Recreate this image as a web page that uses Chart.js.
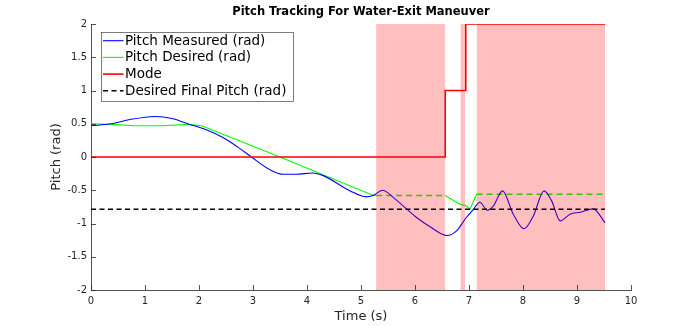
<!DOCTYPE html>
<html>
<head>
<meta charset="utf-8">
<script src="https://cdn.jsdelivr.net/npm/chart.js@4.4.1/dist/chart.umd.min.js"></script>
<style>
html,body{margin:0;padding:0;background:#fff;}
#wrap{width:698px;height:326px;}
</style>
</head>
<body>
<div id="wrap"><canvas id="c" width="698" height="326"></canvas></div>
<script>
// ---- data ----
const chartTitle = "Pitch Tracking For Water-Exit Maneuver";
const xTitle = "Time (s)";
const yTitle = "Pitch (rad)";

const measuredTime  = [0, 0.38, 0.7, 1.19, 1.5, 1.83, 2.1, 2.45, 2.7, 2.97, 3.31, 3.56, 3.8, 4.1, 4.3, 4.8, 5.1, 5.22, 5.4, 5.6, 6.03, 6.28, 6.59, 6.77, 6.95, 7.08, 7.2, 7.34, 7.45, 7.62, 7.82, 8.02, 8.19, 8.39, 8.53, 8.69, 8.87, 9.06, 9.3, 9.52];
const measuredPitch = [0.47, 0.50, 0.56, 0.61, 0.58, 0.49, 0.42, 0.29, 0.16, 0.0, -0.19, -0.26, -0.26, -0.24, -0.28, -0.51, -0.60, -0.58, -0.50, -0.61, -0.91, -1.05, -1.18, -1.11, -0.91, -0.79, -0.68, -0.80, -0.74, -0.51, -0.86, -1.08, -0.89, -0.51, -0.66, -0.96, -0.86, -0.83, -0.78, -0.99];

const desiredTime  = [0, 0.4, 0.8, 1.3, 1.8, 2.05, 3.5, 5.23, 5.28, 6.56, 6.83, 6.93, 7.02, 7.14, 9.52];
const desiredPitch = [0.50, 0.49, 0.47, 0.47, 0.49, 0.47, 0.0, -0.58, -0.58, -0.58, -0.71, -0.73, -0.78, -0.56, -0.56];

const modeTime  = [0, 6.56, 6.56, 6.94, 6.94, 9.52];
const modeValue = [0, 0, 1, 1, 2, 2];

const finalTime  = [0, 9.52];
const finalPitch = [-0.785, -0.785];

// shaded phases [start, end]
const phaseStart = [5.28, 6.84, 7.14];
const phaseEnd   = [6.56, 6.93, 9.52];

const xTicks = [0,1,2,3,4,5,6,7,8,9,10];
const yTicks = [-2,-1.5,-1,-0.5,0,0.5,1,1.5,2];

// ---- build ----
const zip = (xs, ys) => xs.map((x, i) => ({x, y: ys[i]}));
const dashedRanges = [[5.27, 6.57], [7.13, 9.6]];
const inDashed = ctx => dashedRanges.some(r => ctx.p0.parsed.x >= r[0] && ctx.p1.parsed.x <= r[1]);

const datasets = [
  {label: "Pitch Measured (rad)", data: zip(measuredTime, measuredPitch), borderColor: "#0000ff", borderWidth: 1.1,
   pointRadius: 0, cubicInterpolationMode: "monotone", order: 3},
  {label: "Pitch Desired (rad)", data: zip(desiredTime, desiredPitch), borderColor: "#00ff00", borderWidth: 1.1,
   pointRadius: 0, tension: 0, order: 3,
   segment: {borderDash: ctx => inDashed(ctx) ? [6, 4] : undefined, borderWidth: ctx => inDashed(ctx) ? 1.6 : undefined}},
  {label: "Mode", data: zip(modeTime, modeValue), borderColor: "#ff0000", borderWidth: 1.6, pointRadius: 0, order: 0},
  {label: "Desired Final Pitch (rad)", data: zip(finalTime, finalPitch), borderColor: "#000000", borderWidth: 1.5,
   borderDash: [5, 3.5], pointRadius: 0, order: 1}
];
phaseStart.forEach((s, i) => {
  datasets.push({label: "_phase" + i, data: [{x: s, y: 2}, {x: phaseEnd[i], y: 2}], borderWidth: 0,
    borderColor: "rgba(0,0,0,0)", backgroundColor: "rgba(255,0,0,0.25)", fill: {value: -2}, pointRadius: 0, order: 2});
});

const AX = "#262626";
const FONT = "'DejaVu Sans', sans-serif";

const decor = {
  id: "decor",
  afterDraw(chart) {
    const {ctx, chartArea: ca, scales: {x, y}} = chart;
    ctx.save();
    // inner ticks
    ctx.strokeStyle = AX; ctx.lineWidth = 0.8;
    ctx.beginPath();
    xTicks.forEach(v => { const px = Math.round(x.getPixelForValue(v)) + 0.5; ctx.moveTo(px, ca.bottom); ctx.lineTo(px, ca.bottom - 5); });
    yTicks.forEach(v => { const py = Math.round(y.getPixelForValue(v)) + 0.5; ctx.moveTo(ca.left, py); ctx.lineTo(ca.left + 5, py); });
    ctx.stroke();
    // title
    ctx.fillStyle = "#000";
    ctx.font = "bold 11.5px " + FONT;
    ctx.textAlign = "center"; ctx.textBaseline = "middle";
    ctx.fillText(chartTitle, (ca.left + ca.right) / 2, 12);
    // legend
    const items = chart.data.datasets.filter(d => !d.label.startsWith("_"));
    const bx = 101, by = 32, bw = 192, bh = 69, rowH = 16.7, y0 = 40.7;
    ctx.fillStyle = "#fff";
    ctx.fillRect(bx, by, bw, bh);
    ctx.strokeStyle = "#262626"; ctx.lineWidth = 0.6;
    ctx.strokeRect(bx + 0.5, by + 0.5, bw, bh);
    ctx.font = "13.5px " + FONT;
    ctx.textAlign = "left";
    items.forEach((d, i) => {
      const ly = y0 + i * rowH;
      ctx.strokeStyle = d.borderColor; ctx.lineWidth = d.borderWidth;
      ctx.setLineDash(d.borderDash || []);
      ctx.beginPath(); ctx.moveTo(103, ly); ctx.lineTo(123.5, ly); ctx.stroke();
      ctx.setLineDash([]);
      ctx.fillStyle = "#000";
      ctx.fillText(d.label, 125, ly + 0.5);
    });
    ctx.restore();
  }
};

new Chart(document.getElementById("c"), {
  type: "line",
  data: {datasets},
  options: {
    responsive: false, animation: false, devicePixelRatio: 1,
    layout: {padding: {left: 0, right: 67, top: 24, bottom: 0}},
    plugins: {legend: {display: false}, title: {display: false}, tooltip: {enabled: false}},
    scales: {
      x: {type: "linear", min: 0, max: 10,
          afterFit: s => { s.height = 36; },
          afterBuildTicks: s => { s.ticks = xTicks.map(v => ({value: v})); },
          grid: {display: false, drawTicks: false},
          border: {display: true, color: AX, width: 0.8},
          ticks: {color: AX, font: {family: FONT, size: 10}, padding: 5, maxRotation: 0, autoSkip: false,
                  callback: v => String(v)},
          title: {display: true, text: xTitle, color: AX, font: {family: FONT, size: 13}, padding: {top: 0, bottom: 2}}},
      y: {type: "linear", min: -2, max: 2,
          afterFit: s => { s.width = 91; },
          afterBuildTicks: s => { s.ticks = yTicks.map(v => ({value: v})); },
          grid: {display: false, drawTicks: false},
          border: {display: true, color: AX, width: 0.8},
          ticks: {color: AX, font: {family: FONT, size: 10}, padding: 4, autoSkip: false,
                  callback: v => String(v)},
          title: {display: true, text: yTitle, color: AX, font: {family: FONT, size: 13}, padding: {top: 49, bottom: 0}}}
    }
  },
  plugins: [decor]
});
</script>
</body>
</html>
